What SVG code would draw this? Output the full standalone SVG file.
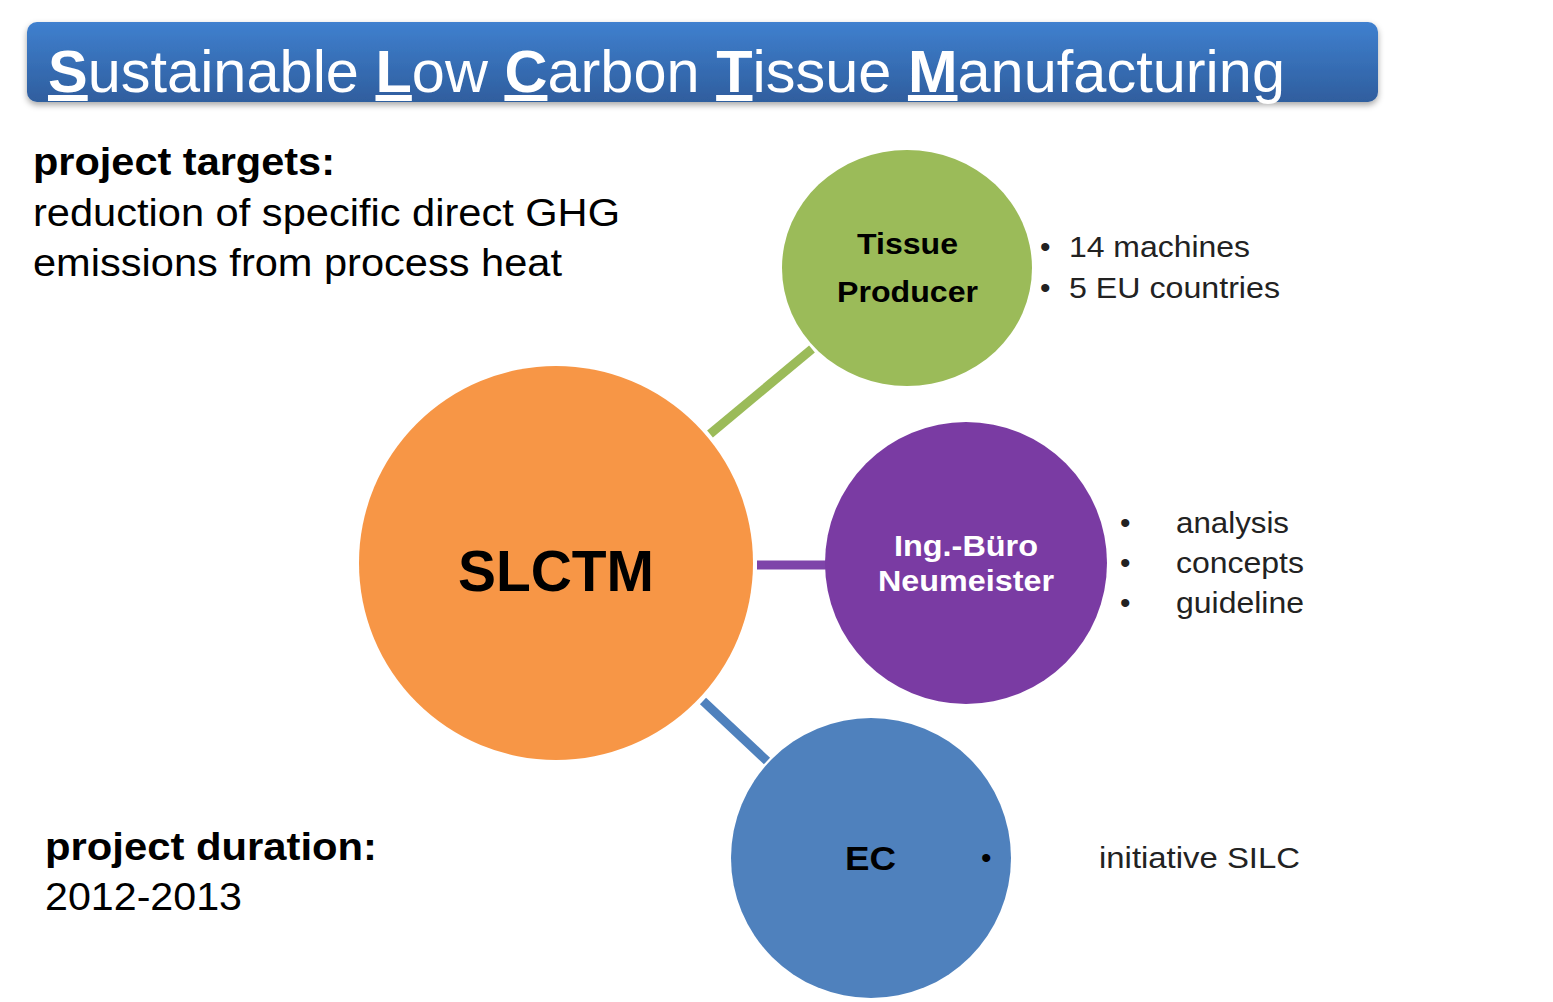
<svg xmlns="http://www.w3.org/2000/svg" width="1553" height="1002" viewBox="0 0 1553 1002">
<defs>
<linearGradient id="tg" x1="0" y1="0" x2="0" y2="1"><stop offset="0" stop-color="#3f80cf"/><stop offset="1" stop-color="#2f5e9e"/></linearGradient>
<filter id="sh" x="-5%" y="-20%" width="110%" height="150%"><feDropShadow dx="0" dy="3" stdDeviation="3" flood-color="#000" flood-opacity="0.35"/></filter>
</defs>
<style>
text{font-family:"Liberation Sans",Arial,sans-serif}
.b{font-weight:bold}
.u{text-decoration:underline;font-weight:bold}
</style>
<rect x="0" y="0" width="1553" height="1002" fill="#fff"/>
<g id="title">
<rect x="27" y="22" width="1351" height="80" rx="10" fill="url(#tg)" filter="url(#sh)"/>
<text x="48" y="92" font-size="60" fill="#fff" textLength="1237" lengthAdjust="spacingAndGlyphs"><tspan class="u">S</tspan>ustainable <tspan class="u">L</tspan>ow <tspan class="u">C</tspan>arbon <tspan class="u">T</tspan>issue <tspan class="u">M</tspan>anufacturing</text>
</g>
<g id="targets" font-size="38" fill="#000">
<text x="33" y="175" class="b" textLength="302" lengthAdjust="spacingAndGlyphs">project targets:</text>
<text x="33" y="226" textLength="587" lengthAdjust="spacingAndGlyphs">reduction of specific direct GHG</text>
<text x="33" y="276" textLength="529" lengthAdjust="spacingAndGlyphs">emissions from process heat</text>
</g>
<g id="duration" font-size="38" fill="#000">
<text x="45" y="860" class="b" textLength="332" lengthAdjust="spacingAndGlyphs">project duration:</text>
<text x="45" y="910" textLength="197" lengthAdjust="spacingAndGlyphs">2012-2013</text>
</g>
<g id="connectors" stroke-width="9">
<line x1="710" y1="434" x2="812" y2="349" stroke="#9bbb59"/>
<line x1="757" y1="565" x2="826" y2="565" stroke="#7030a0" stroke-opacity="0.9"/>
<line x1="703" y1="701" x2="767" y2="761" stroke="#4f81bd"/>
</g>
<g id="slctm">
<circle cx="556" cy="563" r="197" fill="#f79646"/>
<text x="556" y="591" font-size="58" class="b" text-anchor="middle" textLength="196" lengthAdjust="spacingAndGlyphs">SLCTM</text>
</g>
<g id="tissue">
<ellipse cx="907" cy="268" rx="125" ry="118" fill="#9bbb59"/>
<text x="857" y="254" font-size="30" class="b" textLength="101" lengthAdjust="spacingAndGlyphs">Tissue</text>
<text x="837" y="302" font-size="30" class="b" textLength="141" lengthAdjust="spacingAndGlyphs">Producer</text>
<g font-size="30" fill="#222">
<text x="1040" y="257">•</text><text x="1069" y="257" textLength="181" lengthAdjust="spacingAndGlyphs">14 machines</text>
<text x="1040" y="298">•</text><text x="1069" y="298" textLength="211" lengthAdjust="spacingAndGlyphs">5 EU countries</text>
</g>
</g>
<g id="ingburo">
<circle cx="966" cy="563" r="141" fill="#7a3ba3"/>
<text x="894" y="556" font-size="30" class="b" fill="#fff" textLength="144" lengthAdjust="spacingAndGlyphs">Ing.-Büro</text>
<text x="878" y="591" font-size="30" class="b" fill="#fff" textLength="176" lengthAdjust="spacingAndGlyphs">Neumeister</text>
<g font-size="30" fill="#222">
<text x="1120" y="533">•</text><text x="1176" y="533" textLength="113" lengthAdjust="spacingAndGlyphs">analysis</text>
<text x="1120" y="573">•</text><text x="1176" y="573" textLength="128" lengthAdjust="spacingAndGlyphs">concepts</text>
<text x="1120" y="613">•</text><text x="1176" y="613" textLength="128" lengthAdjust="spacingAndGlyphs">guideline</text>
</g>
</g>
<g id="ec">
<circle cx="871" cy="858" r="140" fill="#4f81bd"/>
<text x="845" y="870" font-size="34" class="b" textLength="51" lengthAdjust="spacingAndGlyphs">EC</text>
<text x="981" y="868" font-size="30">•</text>
<text x="1099" y="868" font-size="30" fill="#222" textLength="201" lengthAdjust="spacingAndGlyphs">initiative  SILC</text>
</g>
</svg>
